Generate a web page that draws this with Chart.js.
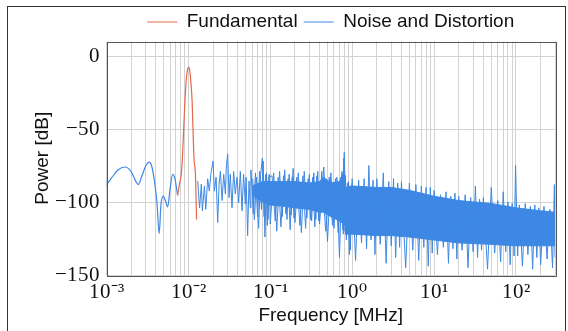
<!DOCTYPE html>
<html>
<head>
<meta charset="utf-8">
<script src="https://cdn.jsdelivr.net/npm/chart.js@4.4.0/dist/chart.umd.min.js"></script>
<style>
  html, body { margin: 0; padding: 0; background: #fff; }
  @font-face { font-family: 'TickSerif'; src: local('Liberation Serif'); }
  @font-face { font-family: 'TickSerif'; src: local('DejaVu Serif'); unicode-range: U+2070; size-adjust: 96%; }
</style>
</head>
<body>
<canvas id="spectrum" width="568" height="331"></canvas>
<script>
// fundamental tone (red)
const fundFreq = [0.00738, 0.00777, 0.00822, 0.00845, 0.00869, 0.00907, 0.00946, 0.00978, 0.01006,
                  0.01034, 0.01073, 0.01113, 0.01144, 0.01177, 0.01217, 0.01259];
const fundDb = [-95.5, -88, -80, -70, -55, -31, -15, -9, -7.5, -9, -18, -32, -55, -72, -80, -112];

// smooth low-frequency part of the noise (blue)
const lowFreq = [0.001, 0.00117, 0.00138, 0.00168, 0.00199, 0.00229, 0.00244, 0.00271, 0.00303, 0.00333,
                 0.00359, 0.0039, 0.00413, 0.0044, 0.00462, 0.00493, 0.00524, 0.00558, 0.00595, 0.00642,
                 0.00685, 0.00738];
const lowDb = [-88.4, -83, -78, -76, -79, -86, -88, -82, -75, -72.6, -76, -88, -100, -121.7, -102, -96,
               -99, -103.4, -92, -81, -84, -95.5];

// noise and distortion above the fundamental
const noiseFreq = [
  0.0130, 0.0137, 0.0144, 0.0148, 0.0157, 0.0163, 0.0172, 0.0180, 0.0189, 0.0200, 0.0208, 0.0218,
  0.0228, 0.0237, 0.0246, 0.0258, 0.0270, 0.0283, 0.0291, 0.0302, 0.0314, 0.0325, 0.0341, 0.0357,
  0.0374, 0.0393, 0.0411, 0.0431, 0.0452, 0.0472, 0.0496, 0.0507, 0.0529, 0.0550, 0.0570,
  0.058, 0.062, 0.066, 0.070, 0.074, 0.078, 0.082, 0.086, 0.090, 0.094, 0.097,
  0.10, 0.11, 0.12, 0.13, 0.14, 0.15, 0.16, 0.17, 0.18, 0.19, 0.20, 0.22, 0.24, 0.26, 0.28, 0.30,
  0.32, 0.34, 0.36, 0.38, 0.40, 0.45, 0.50, 0.55, 0.60, 0.65, 0.70, 0.75, 0.78, 0.80, 0.85, 0.90, 0.95,
  1.0, 1.1, 1.2, 1.3, 1.4, 1.5, 1.6, 1.7, 1.8, 1.9, 2.0, 2.2, 2.4, 2.6, 2.8, 3.0, 3.2, 3.4, 3.6, 3.8,
  4.0, 4.5, 5.0, 5.5, 6.0, 6.5, 7.0, 7.5, 8.0, 8.5, 9.0, 9.5,
  10, 11, 12, 13, 14, 15, 16, 17, 18, 19, 20, 22, 24, 26, 28, 30, 32, 34, 36, 38,
  40, 45, 50, 55, 60, 65, 70, 75, 80, 85, 90, 95, 99,
  105, 110, 120, 130, 140, 150, 160, 170, 180, 190, 200, 220, 240, 260, 280, 295, 300
];
const noiseDb = [
  -85.6, -104, -87.7, -106, -89, -105, -84, -92.5, -80, -72, -92.5, -83,
  -114, -88, -79, -99, -81, -94.5, -75, -67, -97, -81, -104, -79,
  -94.5, -83, -100.5, -79, -106, -81, -101.5, -83, -123, -85.6, -104,
  -78, -108, -80, -110, -79, -105, -72, -124, -80, -112, -81,
  -115, -80, -120, -79, -110, -78, -112, -81, -109, -77, -114, -80, -121, -79, -111, -81,
  -113, -80, -112, -79, -115, -76, -127, -80, -118, -83, -138, -79, -122, -66, -126, -86, -133,
  -84, -140, -85, -128, -84, -132, -75, -126, -85, -136, -84, -129, -80, -142, -86, -130, -84, -138, -87, -131,
  -86, -145, -87, -133, -88, -140, -89, -131, -90, -144, -90, -135,
  -92, -136, -95, -131, -93, -142, -96, -132, -94, -139, -96, -133, -95, -145, -97, -134, -89, -138, -98, -133,
  -97, -146, -90, -135, -99, -141, -93, -134, -100, -143, -101, -137, -75,
  -137, -102, -144, -101, -136, -103, -146, -102, -138, -104, -143, -103, -139, -105, -145, -88, -138
];

// second trace of the noise between 0.06 and 1 MHz (fills the gaps of the first)
const noiseFreq2 = [
  0.061, 0.064, 0.068, 0.072, 0.076, 0.080, 0.084, 0.088, 0.092, 0.096,
  0.105, 0.115, 0.125, 0.135, 0.145, 0.155, 0.165, 0.175, 0.185, 0.195,
  0.21, 0.23, 0.25, 0.27, 0.29, 0.31, 0.33, 0.35, 0.37, 0.39,
  0.425, 0.475, 0.525, 0.575, 0.625, 0.675, 0.725, 0.77, 0.79, 0.82, 0.875, 0.925, 0.975
];
const noiseDb2 = [
  -84, -112, -83, -118, -82, -70, -110, -81, -116, -83,
  -82, -113, -83, -117, -82, -108, -84, -119, -83, -111,
  -83, -116, -82, -118, -84, -112, -83, -117, -82, -113,
  -79, -120, -83, -116, -84, -121, -83, -119, -70, -120, -87, -136, -88
];

// solid core of the dense noise floor
const bandFreq = [0.06, 0.08, 0.1, 0.15, 0.2, 0.3, 0.4, 0.45, 0.55, 0.7, 0.78, 0.82, 0.83,
                  1, 2, 3, 5, 10, 20, 50, 100, 200, 300];
const bandTop = [-89, -86, -86, -86, -86, -87, -86, -83, -87, -86, -80, -82, -90,
                 -89, -90, -90, -92, -96, -99, -101, -104, -106, -107];
const bandBottom = [-95, -100, -102, -103, -104, -105, -107, -107, -110, -113, -115, -116, -122,
                    -122, -123, -123, -124, -126, -128, -129, -130, -130, -130];

// axes
const decadeTicks = [0.001, 0.01, 0.1, 1, 10, 100];
const decadeLabels = ['10\u207B\u00B3', '10\u207B\u00B2', '10\u207B\u00B9', '10\u2070', '10\u00B9', '10\u00B2'];
const minorSteps = [2, 3, 4, 5, 6, 7, 8, 9];
const yTicks = [-150, -100, -50, 0];

const blue = '#3e88e4';
const red = '#e4684a';
const gridColor = '#d2d2d2';
const tickFont = "TickSerif, 'Liberation Serif', serif";

function pts(xs, ys) {
  return xs.map((x, i) => ({ x: x, y: ys[i] }));
}

function decadeLabel(v) {
  for (let i = 0; i < decadeTicks.length; i++) {
    if (Math.abs(v / decadeTicks[i] - 1) < 1e-6) return decadeLabels[i];
  }
  return '';
}

const xGrid = [];
decadeTicks.forEach(d => {
  xGrid.push(d);
  minorSteps.forEach(m => { if (m * d <= 300) xGrid.push(m * d); });
});

const framePlugin = {
  id: 'frame',
  afterDraw(chart) {
    const { ctx, chartArea: a } = chart;
    ctx.save();
    ctx.lineWidth = 1;
    ctx.strokeStyle = '#555';
    ctx.strokeRect(Math.round(a.left) + 0.5, Math.round(a.top) + 0.5,
                   Math.round(a.right - a.left), Math.round(a.bottom - a.top));
    ctx.strokeStyle = '#333';
    ctx.strokeRect(7.5, 6.5, 558, 340);
    ctx.restore();
  }
};

function drawChart() {
  const ctx = document.getElementById('spectrum').getContext('2d');
  new Chart(ctx, {
    type: 'line',
    data: {
      datasets: [
        { label: 'Fundamental', data: pts(fundFreq, fundDb), borderColor: red, backgroundColor: red,
          borderWidth: 1.2, pointRadius: 0, cubicInterpolationMode: 'monotone' },
        { label: 'Noise and Distortion', data: pts(noiseFreq, noiseDb), borderColor: blue, backgroundColor: blue,
          borderWidth: 1, pointRadius: 0, tension: 0 },
        { label: '', data: pts(noiseFreq2, noiseDb2), borderColor: blue, borderWidth: 1, pointRadius: 0, tension: 0 },
        { label: '', data: pts(lowFreq, lowDb), borderColor: blue, borderWidth: 1.2, pointRadius: 0,
          cubicInterpolationMode: 'monotone' },
        { label: '', data: pts(bandFreq, bandTop), borderColor: blue, borderWidth: 1, pointRadius: 0,
          tension: 0, fill: false },
        { label: '', data: pts(bandFreq, bandBottom), borderColor: blue, backgroundColor: blue,
          borderWidth: 1, pointRadius: 0, tension: 0, fill: '-1' }
      ]
    },
    options: {
      responsive: false,
      animation: false,
      events: [],
      layout: { padding: { top: 6.5, right: 13, bottom: 0, left: 0 } },
      plugins: {
        legend: {
          position: 'top',
          fullSize: false,
          labels: {
            usePointStyle: true,
            pointStyle: 'line',
            pointStyleWidth: 30,
            padding: 6,
            color: '#111',
            font: { family: 'Liberation Sans', size: 19 },
            filter: item => item.text !== ''
          }
        },
        tooltip: { enabled: false }
      },
      scales: {
        x: {
          type: 'logarithmic',
          min: 0.001,
          max: 300,
          afterBuildTicks: s => { s.ticks = xGrid.map(v => ({ value: v })); },
          afterFit: s => { s.height = 56; },
          ticks: {
            autoSkip: false,
            maxRotation: 0,
            padding: 5,
            color: '#111',
            font: { family: tickFont, size: 21 },
            callback: v => decadeLabel(v)
          },
          grid: { color: gridColor, drawTicks: false },
          border: { display: false },
          title: {
            display: true,
            text: 'Frequency [MHz]',
            color: '#111',
            font: { family: 'Liberation Sans', size: 19 },
            padding: { top: 0, bottom: 4 }
          }
        },
        y: {
          min: -150,
          max: 10,
          afterBuildTicks: s => { s.ticks = yTicks.map(v => ({ value: v })); },
          afterFit: s => { s.width = 106.5; },
          ticks: {
            padding: 7,
            color: '#111',
            font: { family: tickFont, size: 21 },
            callback: v => (v < 0 ? '\u2212' + Math.abs(v) : String(v))
          },
          grid: { color: gridColor, drawTicks: false },
          border: { display: false },
          title: {
            display: true,
            text: 'Power [dB]',
            color: '#111',
            font: { family: 'Liberation Sans', size: 19 },
            padding: { top: 31, bottom: 0 }
          }
        }
      }
    },
    plugins: [framePlugin]
  });
}

Promise.all([
  document.fonts.load('21px TickSerif', '10\u2212\u00B9'),
  document.fonts.load('21px TickSerif', '10\u2070')
]).then(drawChart, drawChart);
</script>
</body>
</html>
